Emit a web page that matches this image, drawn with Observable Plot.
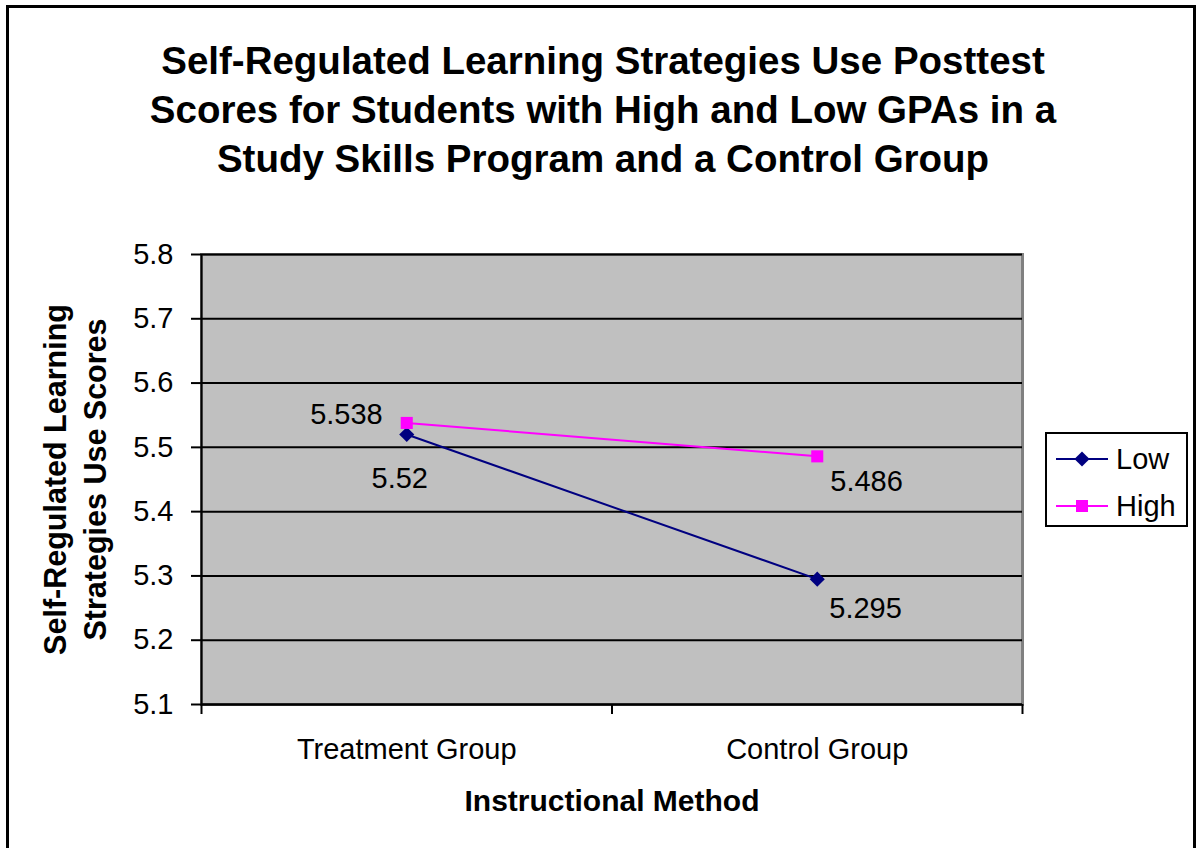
<!DOCTYPE html>
<html>
<head>
<meta charset="utf-8">
<script src="https://cdn.jsdelivr.net/npm/d3@7"></script>
<script src="https://cdn.jsdelivr.net/npm/@observablehq/plot@0.6"></script>
<style>
  html, body { margin: 0; padding: 0; background: #fff; overflow: hidden; }
  body { font-family: "Liberation Sans", Arial, sans-serif; }
  #wrap { position: relative; width: 1196px; height: 848px; overflow: hidden; }
  #border { position: absolute; left: 6px; top: 5px; width: 1190px; height: 900px; box-sizing: border-box;
            border: 3px solid #000; border-bottom: none; }
  #title { position: absolute; left: 0; width: 1206px; top: 36px; text-align: center;
           font-weight: bold; font-size: 38.5px; line-height: 49px; color: #000; }
  #chart { position: absolute; left: 0; top: 0; }
  #legend { position: absolute; left: 1045px; top: 432px; width: 143px; height: 95px; box-sizing: border-box;
            border: 2px solid #000; background: #fff; }
  .item { position: absolute; left: 0; height: 40px; display: flex; align-items: center; font-size: 29px; }
  .item svg { margin-left: 9px; margin-right: 8px; }
</style>
</head>
<body>
<div id="wrap">
  <div id="border"></div>
  <div id="title">Self-Regulated Learning Strategies Use Posttest<br>Scores for Students with High and Low GPAs in a<br>Study Skills Program and a Control Group</div>
  <div id="chart"></div>
  <div id="legend"></div>
</div>
<script>
// ---- data ----
const categories = ["Treatment Group", "Control Group"];
const seriesNames = ["Low", "High"];
const lowValues = [5.52, 5.295];
const highValues = [5.538, 5.486];
const yTicks = [5.1, 5.2, 5.3, 5.4, 5.5, 5.6, 5.7, 5.8];
const seriesColors = ["#000080", "#ff00ff"];
const seriesSymbols = ["diamond2", "square"];

const rows = [];
categories.forEach((c, i) => {
  rows.push({series: "Low", cat: c, xi: i + 0.5, value: lowValues[i]});
  rows.push({series: "High", cat: c, xi: i + 0.5, value: highValues[i]});
});
const fmtLabel = d => String(d.value);
const pick = (s, i) => rows.filter(r => r.series === s && r.cat === categories[i]);

const fontFamily = '"Liberation Sans", Arial, sans-serif';

const chart = Plot.plot({
  width: 1196,
  height: 848,
  marginLeft: 201,
  marginRight: 174,
  marginTop: 254,
  marginBottom: 144,
  style: {fontFamily, color: "#000", background: "transparent", overflow: "visible"},
  x: {type: "linear", domain: [0, categories.length], axis: null},
  y: {domain: [5.1, 5.8], axis: null},
  color: {domain: seriesNames, range: seriesColors},
  symbol: {domain: seriesNames, range: seriesSymbols},
  marks: [
    Plot.frame({fill: "#c0c0c0", stroke: "#808080", strokeWidth: 3}),
    Plot.gridY(yTicks, {stroke: "#000", strokeOpacity: 1, strokeWidth: 2}),
    Plot.ruleX([0], {stroke: "#000", strokeWidth: 2}),
    Plot.ruleY([5.1], {stroke: "#000", strokeWidth: 2}),
    Plot.axisY(yTicks, {tickSize: 10, tickPadding: 18, tickFormat: d => d.toFixed(1), fontSize: 29,
      stroke: "#000", strokeWidth: 2, fill: "#000", label: null}),
    Plot.axisX(d3.range(categories.length + 1), {tickSize: 10, tickFormat: () => "", stroke: "#000", strokeWidth: 2, label: null}),
    Plot.text(categories, {x: (d, i) => i + 0.5, frameAnchor: "bottom", dy: 54, fontSize: 29, fill: "#000"}),
    Plot.text(["Instructional Method"], {frameAnchor: "bottom", dy: 106, fontSize: 30, fontWeight: "bold", fill: "#000"}),
    Plot.text(["Self-Regulated Learning\nStrategies Use Scores"], {frameAnchor: "left", textAnchor: "middle", rotate: -90, dx: -128,
      fontSize: 30.5, fontWeight: "bold", lineHeight: 1.31, fill: "#000"}),
    Plot.line(rows, {x: "xi", y: "value", z: "series", stroke: "series", strokeWidth: 2}),
    Plot.dot(rows, {x: "xi", y: "value", symbol: "series", fill: "series", stroke: "none", r: 6.8}),
    Plot.text(pick("High", 0), {x: "xi", y: "value", text: fmtLabel, textAnchor: "end", dx: -24, dy: -8, fontSize: 29, fill: "#000"}),
    Plot.text(pick("Low", 0), {x: "xi", y: "value", text: fmtLabel, textAnchor: "middle", dx: -7, dy: 44, fontSize: 29, fill: "#000"}),
    Plot.text(pick("High", 1), {x: "xi", y: "value", text: fmtLabel, textAnchor: "start", dx: 13, dy: 25, fontSize: 29, fill: "#000"}),
    Plot.text(pick("Low", 1), {x: "xi", y: "value", text: fmtLabel, textAnchor: "start", dx: 12, dy: 30, fontSize: 29, fill: "#000"})
  ]
});
document.getElementById("chart").appendChild(chart);

// ---- legend ----
const legend = document.getElementById("legend");
seriesNames.forEach((name, i) => {
  const item = document.createElement("div");
  item.className = "item";
  item.style.top = (i === 0 ? 5 : 52) + "px";
  const sym = d3.symbol(i === 0 ? d3.symbolDiamond2 : d3.symbolSquare, 6.8 * 6.8 * Math.PI)();
  item.innerHTML = `<svg width="52" height="20" viewBox="0 0 52 20">
      <line x1="0" x2="52" y1="10" y2="10" stroke="${seriesColors[i]}" stroke-width="2"/>
      <path d="${sym}" transform="translate(26,10)" fill="${seriesColors[i]}"/>
    </svg><span>${name}</span>`;
  legend.appendChild(item);
});
</script>
</body>
</html>
